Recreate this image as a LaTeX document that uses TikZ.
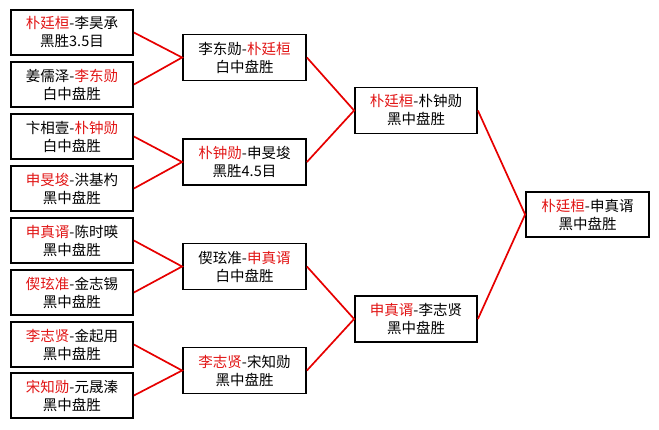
\documentclass[tikz,border=0pt]{standalone}
\usepackage{fontspec}
\setmainfont{Noto Sans CJK SC}
\usepackage{tikz}
\usetikzlibrary{calc}
\definecolor{winred}{RGB}{225,20,20}
\definecolor{linered}{RGB}{230,0,0}
\newcommand{\win}[1]{\textcolor{winred}{#1}}

\begin{document}
\begin{tikzpicture}[x=1pt,y=-1pt,
		game/.style={draw,line width=1.8pt,minimum width=122pt,minimum height=45pt,inner sep=0pt,align=center,font=\fontsize{14.5pt}{18pt}\selectfont},
		link/.style={draw=linered,line width=1.7pt}]
		\useasboundingbox (0,0) rectangle (659,429);
		
		\node[game] (a1) at (72,32.5) {\win{朴廷桓}-李昊承\\黑胜3.5目};
		\node[game] (a2) at (72,84.5) {姜儒泽-\win{李东勋}\\白中盘胜};
		\node[game] (a3) at (72,136.5) {卞相壹-\win{朴钟勋}\\白中盘胜};
		\node[game] (a4) at (72,188.5) {\win{申旻埈}-洪基杓\\黑中盘胜};
		\node[game] (a5) at (72,240.5) {\win{申真谞}-陈时暎\\黑中盘胜};
		\node[game] (a6) at (72,292.5) {\win{偰玹准}-金志锡\\黑中盘胜};
		\node[game] (a7) at (72,344.5) {\win{李志贤}-金起用\\黑中盘胜};
		\node[game] (a8) at (72,395.5) {\win{宋知勋}-元晟溱\\黑中盘胜};
		
		\node[game,minimum width=123pt,minimum height=46pt] (b1) at (244.5,57.5) {李东勋-\win{朴廷桓}\\白中盘胜};
		\node[game,minimum width=123pt,minimum height=46pt] (b2) at (244.5,162) {\win{朴钟勋}-申旻埈\\黑胜4.5目};
		\node[game,minimum width=123pt,minimum height=46pt] (b3) at (244.5,266.5) {偰玹准-\win{申真谞}\\白中盘胜};
		\node[game,minimum width=123pt,minimum height=46pt] (b4) at (244.5,370.5) {\win{李志贤}-宋知勋\\黑中盘胜};
		
		\node[game,minimum height=46pt] (c1) at (416,110.5) {\win{朴廷桓}-朴钟勋\\黑中盘胜};
		\node[game,minimum height=46pt] (c2) at (416,319) {\win{申真谞}-李志贤\\黑中盘胜};
		
		\node[game,minimum width=123pt] (d1) at (587.5,214.5) {\win{朴廷桓}-申真谞\\黑中盘胜};
		
		\draw[link] (a1.east) -- (b1.west) -- (a2.east);
		\draw[link] (a3.east) -- (b2.west) -- (a4.east);
		\draw[link] (a5.east) -- (b3.west) -- (a6.east);
		\draw[link] (a7.east) -- (b4.west) -- (a8.east);
		
		\draw[link] (b1.east) -- (c1.west) -- (b2.east);
		\draw[link] (b3.east) -- (c2.west) -- (b4.east);
		
		\draw[link] (c1.east) -- (d1.west) -- (c2.east);
		
	\end{tikzpicture}
\end{document}
